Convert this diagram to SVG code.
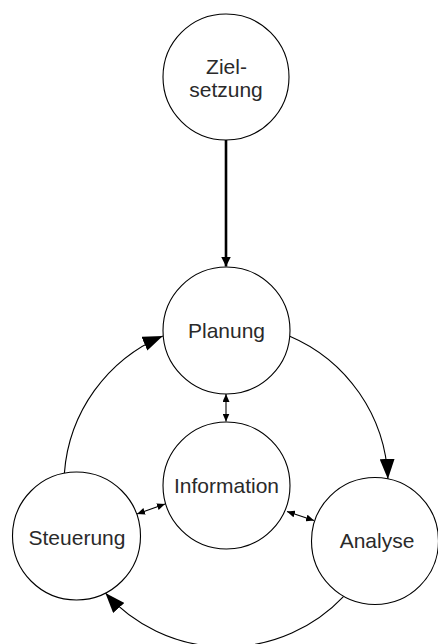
<svg xmlns="http://www.w3.org/2000/svg" width="438" height="644" viewBox="0 0 438 644">
  <style>
    .node circle { fill: #ffffff; stroke: #000000; stroke-width: 1.1; }
    .node text { font-family: "Liberation Sans", Arial, sans-serif; font-size: 21px; fill: #2a2a2a; text-anchor: middle; }
    .conn { fill: none; stroke: #000000; stroke-width: 1.1; }
    .thick { fill: none; stroke: #000000; stroke-width: 2.6; }
  </style>
  <defs>
    <marker id="big" markerUnits="userSpaceOnUse" markerWidth="20" markerHeight="15" refX="20" refY="7.5" orient="auto">
      <path d="M0,0 L20,7.5 L0,15 z" fill="#000"/>
    </marker>
    <marker id="mid" markerUnits="userSpaceOnUse" markerWidth="10" markerHeight="10" refX="10" refY="5" orient="auto">
      <path d="M0,0 L10,5 L0,10 z" fill="#000"/>
    </marker>
    <marker id="small" markerUnits="userSpaceOnUse" markerWidth="8" markerHeight="7" refX="8" refY="3.5" orient="auto-start-reverse">
      <path d="M0,0 L8,3.5 L0,7 z" fill="#000"/>
    </marker>
  </defs>

  <g id="connectors">
    <line class="thick" x1="226" y1="140" x2="226" y2="266.5" marker-end="url(#mid)"/>
    <path class="conn" d="M289.2,335.9 A162,162 0 0 1 387.9,478.9" marker-end="url(#big)"/>
    <path class="conn" d="M343.7,596.3 A162,162 0 0 1 105.4,593.1" marker-end="url(#big)"/>
    <path class="conn" d="M64.4,473.1 A162,162 0 0 1 162.8,335.9" marker-end="url(#big)"/>
    <line class="conn" x1="226" y1="394" x2="226" y2="421.5" marker-start="url(#small)" marker-end="url(#small)"/>
    <line class="conn" x1="137" y1="514" x2="165" y2="504" marker-start="url(#small)" marker-end="url(#small)"/>
    <line class="conn" x1="287" y1="511.5" x2="314" y2="520.5" marker-start="url(#small)" marker-end="url(#small)"/>
  </g>

  <g id="zielsetzung" class="node">
    <circle cx="226" cy="77" r="63"/>
    <text x="226.5" y="74">Ziel-</text>
    <text x="226" y="97">setzung</text>
  </g>
  <g id="planung" class="node">
    <circle cx="226.5" cy="330.5" r="63.5"/>
    <text x="226.5" y="338">Planung</text>
  </g>
  <g id="information" class="node">
    <circle cx="226.5" cy="485.5" r="63.5"/>
    <text x="226.5" y="493">Information</text>
  </g>
  <g id="steuerung" class="node">
    <circle cx="76.5" cy="536" r="64"/>
    <text x="77" y="545">Steuerung</text>
  </g>
  <g id="analyse" class="node">
    <circle cx="375" cy="541" r="63.5"/>
    <text x="377" y="548">Analyse</text>
  </g>
</svg>
